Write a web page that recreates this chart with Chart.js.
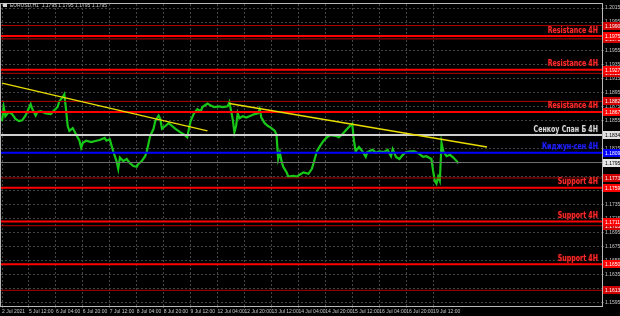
<!DOCTYPE html>
<html>
<head>
<meta charset="utf-8">
<script src="https://cdn.jsdelivr.net/npm/chart.js@4.4.0/dist/chart.umd.min.js"></script>
<style>
  html, body { margin: 0; padding: 0; background: #000; }
</style>
</head>
<body>
<canvas id="chart" width="620" height="316"></canvas>
<script>
// EURUSD H1, hourly bar index (0 = 2 Jul 20:00) and price
const barIdx = [0,1,2,4,6,8,10,12,14,17,18,20,21,23,26,29,30,33,34,36,37,38,39,40,42,44,46,47,48,50,53,56,58,61,62,64,66,68,69,70,72,74,76,78,80,81,83,85,86,88,90,91,93,94,95,97,99,101,103,106,108,110,111,112,114,116,118,119,122,124,126,129,131,134,135,137,138,139,140,141,143,145,148,150,152,153,154,156,158,160,162,163,164,165,166,167,169,170,173,175,177,179,182,184,185,187,189,191,193,195,198,200,202,205,207,208,209,210,212,214,216,217,220,222,224,227,229,231,232,234,236,238,240,243,245,248,250,252,255,256,257,258,259,260,261,262,264,266,268,270,271];
const prices = [1.1854,1.1874,1.1861,1.1867,1.1864,1.1857,1.1854,1.1855,1.1862,1.1878,1.1871,1.1862,1.1867,1.1868,1.1865,1.1864,1.1867,1.1874,1.1882,1.1888,1.1892,1.1871,1.1847,1.1840,1.1844,1.1835,1.1826,1.1816,1.1823,1.1826,1.1824,1.1826,1.1827,1.1830,1.1826,1.1828,1.1811,1.1797,1.1786,1.1802,1.1797,1.1800,1.1794,1.1790,1.1789,1.1793,1.1797,1.1804,1.1811,1.1833,1.1843,1.1854,1.1862,1.1857,1.1843,1.1847,1.1851,1.1847,1.1843,1.1838,1.1835,1.1831,1.1843,1.1854,1.1865,1.1871,1.1868,1.1874,1.1879,1.1876,1.1874,1.1875,1.1874,1.1875,1.1881,1.1857,1.1838,1.1847,1.1865,1.1858,1.1861,1.1859,1.1862,1.1864,1.1865,1.1871,1.1859,1.1851,1.1847,1.1844,1.1840,1.1835,1.1800,1.1809,1.1797,1.1789,1.1781,1.1775,1.1776,1.1775,1.1778,1.1781,1.1779,1.1786,1.1794,1.1811,1.1819,1.1826,1.1831,1.1834,1.1833,1.1831,1.1835,1.1843,1.1848,1.1850,1.1826,1.1811,1.1817,1.1811,1.1803,1.1810,1.1813,1.1809,1.1811,1.1810,1.1813,1.1804,1.1814,1.1803,1.1800,1.1806,1.1810,1.1811,1.1811,1.1807,1.1803,1.1804,1.1800,1.1783,1.1769,1.1765,1.1775,1.1769,1.1823,1.1811,1.1804,1.1806,1.1802,1.1797,1.1794];

const resistanceLevels = [1.1975, 1.1927, 1.1867];
const supportLevels = [1.1759, 1.1711, 1.1650];
const minorLevels = [1.1990, 1.1971, 1.1922, 1.1882, 1.1773, 1.1705, 1.1613];
const senkouLevel = 1.1834;
const kijunLevel = 1.1809;
const lastPrice = 1.1795;

const trend1Bars = [0, 122];
const trend1Prices = [1.1908, 1.1840];
const trend2Bars = [135, 288];
const trend2Prices = [1.1879, 1.1817];

const xTickBars = [0,16,32,48,64,80,96,112,128,144,160,176,192,208,224,240,256];
const xTickLabels = ['2 Jul 2021','5 Jul 12:00','6 Jul 04:00','6 Jul 20:00','7 Jul 12:00','8 Jul 04:00','8 Jul 20:00','9 Jul 12:00','12 Jul 04:00','12 Jul 20:00','13 Jul 12:00','14 Jul 04:00','14 Jul 20:00','15 Jul 12:00','16 Jul 04:00','16 Jul 20:00','19 Jul 12:00'];
const yTicks = [1.2015,1.1995,1.1975,1.1955,1.1935,1.1915,1.1895,1.1875,1.1855,1.1835,1.1815,1.1795,1.1775,1.1755,1.1735,1.1715,1.1695,1.1675,1.1655,1.1635,1.1615,1.1595];

const X_MIN = -0.6, X_MAX = 356.3;
const SMALL_FONT = '"Liberation Sans Narrow", "Liberation Sans", sans-serif';

function hline(level, color, width, order) {
  return {
    data: [{ x: X_MIN, y: level }, { x: X_MAX, y: level }],
    borderColor: color, borderWidth: width, pointRadius: 0, order: order
  };
}
function tline(bars, vals) {
  return {
    data: bars.map((b, i) => ({ x: b, y: vals[i] })),
    borderColor: '#e8dc00', borderWidth: 1.4, pointRadius: 0, order: 1
  };
}

const datasets = [];
minorLevels.forEach(l => datasets.push(hline(l, '#b00000', 1, 3)));
resistanceLevels.concat(supportLevels).forEach(l => datasets.push(hline(l, '#ff0000', 2, 2)));
datasets.push(hline(senkouLevel, '#cfcfcf', 2, 2));
datasets.push(hline(kijunLevel, '#0000ff', 2, 2));
datasets.push(hline(lastPrice, '#6e6e6e', 1, 3));
datasets.push(tline(trend1Bars, trend1Prices));
datasets.push(tline(trend2Bars, trend2Prices));
datasets.push({
  data: barIdx.map((b, i) => ({ x: b, y: prices[i] })),
  borderColor: '#18c818', borderWidth: 2.2, pointRadius: 0, tension: 0, order: 10
});

const overlay = {
  id: 'overlay',
  afterDraw(chart) {
    const { ctx, chartArea: a, scales: { y } } = chart;
    ctx.save();
    // frame
    ctx.strokeStyle = '#b8b8b8';
    ctx.lineWidth = 1;
    ctx.strokeRect(a.left - 0.5, a.top - 0.5, a.right - a.left + 1, a.bottom - a.top + 1);

    // price boxes on the right scale
    ctx.font = '5px ' + SMALL_FONT;
    ctx.textBaseline = 'middle';
    ctx.textAlign = 'left';
    function box(level, fill, txt) {
      const py = Math.round(y.getPixelForValue(level));
      ctx.fillStyle = fill;
      ctx.fillRect(a.right + 1, py - 4, 17, 8);
      ctx.fillStyle = txt;
      ctx.fillText(level.toFixed(4), a.right + 3, py + 0.5);
    }
    minorLevels.forEach(l => box(l, '#d00000', '#fff'));
    resistanceLevels.concat(supportLevels).forEach(l => box(l, '#ff0000', '#fff'));
    box(senkouLevel, '#e0e0e0', '#000');
    box(kijunLevel, '#0000ff', '#fff');
    box(lastPrice, '#e8e8e8', '#000');

    // level captions, squeezed horizontally like the terminal font
    ctx.font = 'bold 8.5px "DejaVu Sans", sans-serif';
    ctx.textAlign = 'right';
    ctx.textBaseline = 'bottom';
    const sx = 0.74;
    function caption(level, text, color, shadow) {
      const py = y.getPixelForValue(level);
      ctx.save();
      ctx.translate(a.right - 4, py - 1.5);
      ctx.scale(sx, 1);
      ctx.shadowColor = shadow;
      ctx.shadowBlur = 2;
      ctx.fillStyle = color;
      ctx.fillText(text, 0, 0);
      ctx.restore();
    }
    resistanceLevels.forEach(l => caption(l, 'Resistance 4H', '#ff2a2a', '#600000'));
    supportLevels.forEach(l => caption(l, 'Support 4H', '#ff2a2a', '#600000'));
    caption(senkouLevel, 'Сенкоу Спан Б 4Н', '#d8d8d8', '#303030');
    caption(kijunLevel, 'Киджун-сен 4Н', '#2020ff', '#000060');

    // title
    ctx.fillStyle = '#d0d0d0';
    ctx.fillRect(3, 3, 4, 4);
    ctx.font = '5px ' + SMALL_FONT;
    ctx.textAlign = 'left';
    ctx.textBaseline = 'middle';
    ctx.fillText('EURUSD,H1  1.1795 1.1795 1.1795 1.1795', 10, 5.5);
    ctx.restore();
  }
};

new Chart(document.getElementById('chart'), {
  type: 'line',
  data: { datasets },
  options: {
    responsive: false,
    animation: false,
    layout: { padding: { left: 1, top: 2, right: 0, bottom: 0 } },
    plugins: { legend: { display: false }, tooltip: { enabled: false } },
    scales: {
      x: {
        type: 'linear',
        min: X_MIN,
        max: X_MAX,
        afterBuildTicks: s => { s.ticks = xTickBars.map(v => ({ value: v })); },
        afterFit: s => { s.height = 10; },
        grid: { color: '#444', lineWidth: 1, drawTicks: true, tickLength: 2 },
        border: { display: false, dash: [2, 2] },
        ticks: {
          autoSkip: false, maxRotation: 0, align: 'start', padding: 1,
          color: '#c8c8c8', font: { size: 5, family: SMALL_FONT },
          callback: (v) => xTickLabels[xTickBars.indexOf(v)]
        }
      },
      y: {
        type: 'linear',
        position: 'right',
        min: 1.15907,
        max: 1.20207,
        afterBuildTicks: s => { s.ticks = yTicks.map(v => ({ value: v })); },
        afterFit: s => { s.width = 18; },
        grid: { color: '#444', lineWidth: 1, drawTicks: true, tickLength: 2 },
        border: { display: false, dash: [2, 2] },
        ticks: {
          padding: 1, color: '#c8c8c8', font: { size: 5, family: SMALL_FONT },
          callback: v => v.toFixed(4)
        }
      }
    }
  },
  plugins: [overlay]
});
</script>
</body>
</html>
